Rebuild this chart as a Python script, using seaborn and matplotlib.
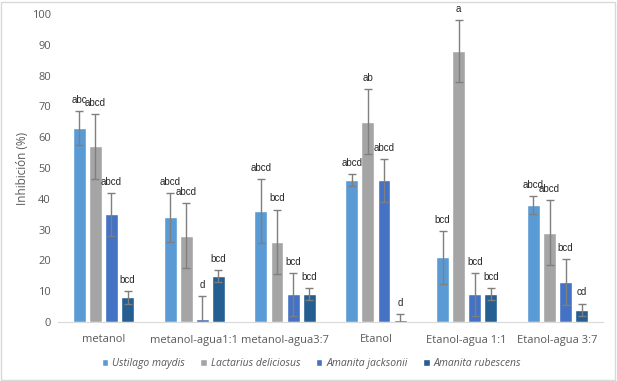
import numpy as np
import pandas as pd
import seaborn as sns
import matplotlib.pyplot as plt
from matplotlib.patches import Rectangle

# data
solvents = ['metanol', 'metanol-agua1:1', 'metanol-agua3:7', 'Etanol',
            'Etanol-agua 1:1', 'Etanol-agua 3:7']
species = ['Ustilago maydis', 'Lactarius deliciosus', 'Amanita jacksonii',
           'Amanita rubescens']

ustilago = [63, 34, 36, 46, 21, 38]
lactarius = [57, 28, 26, 65, 88, 29]
jacksonii = [35, 1, 9, 46, 9, 13]
rubescens = [8, 15, 9, 0.5, 9, 4]

ustilago_err = [5.5, 8, 10.5, 2, 8.5, 3]
lactarius_err = [10.5, 10.5, 10.5, 10.5, 10, 10.5]
jacksonii_err = [7, 7.5, 7, 7, 7, 7.5]
rubescens_err = [2, 2, 2, 2, 2, 2]

ustilago_lbl = ['abc', 'abcd', 'abcd', 'abcd', 'bcd', 'abcd']
lactarius_lbl = ['abcd', 'abcd', 'bcd', 'ab', 'a', 'abcd']
jacksonii_lbl = ['abcd', 'd', 'bcd', 'abcd', 'bcd', 'bcd']
rubescens_lbl = ['bcd', 'bcd', 'bcd', 'd', 'bcd', 'cd']

values = [ustilago, lactarius, jacksonii, rubescens]
errors = [ustilago_err, lactarius_err, jacksonii_err, rubescens_err]
labels = [ustilago_lbl, lactarius_lbl, jacksonii_lbl, rubescens_lbl]
colors = ['#5B9BD5', '#A5A5A5', '#4472C4', '#255E91']

df = pd.DataFrame({
    'solvent': solvents * len(species),
    'species': np.repeat(species, len(solvents)),
    'value': np.concatenate(values),
})

sns.set_style('white')
plt.rcParams['font.family'] = ['Open Sans', 'DejaVu Sans']

fig = plt.figure(figsize=(6.17, 3.81), dpi=100)
ax = fig.add_axes([58 / 617, 59 / 381, 545 / 617, 308 / 381])

sns.barplot(data=df, x='solvent', y='value', hue='species', order=solvents,
            hue_order=species, palette=colors, width=0.71, gap=0.2,
            errorbar=None, saturation=1, ax=ax)

for cont, err, lbl in zip(ax.containers, errors, labels):
    xs = [p.get_x() + p.get_width() / 2 for p in cont]
    hs = [p.get_height() for p in cont]
    ax.errorbar(xs, hs, yerr=err, fmt='none', ecolor='#7f7f7f',
                elinewidth=1, capsize=3, capthick=1)
    for x, h, e, t in zip(xs, hs, err, lbl):
        ax.annotate(t, (x, h + e), xytext=(0, 8), textcoords='offset points',
                    ha='center', va='center', fontsize=7,
                    family='Liberation Sans', color='#262626')

ax.set_ylim(0, 100)
ax.set_yticks(range(0, 101, 10))
ax.set_xlim(-0.5, len(solvents) - 0.5)
ax.set_xlabel('')
ax.set_ylabel('Inhibición (%)', fontsize=8.5, color='#595959', labelpad=2)
ax.tick_params(axis='y', length=0, labelsize=8, colors='#595959', pad=5)
ax.tick_params(axis='x', length=0, labelsize=8, colors='#595959', pad=9)
for s in ['top', 'right', 'left']:
    ax.spines[s].set_visible(False)
ax.spines['bottom'].set_color('#d9d9d9')

handles, texts = ax.get_legend_handles_labels()
leg = ax.legend(handles, texts, loc='center', bbox_to_anchor=(0.465, -0.135),
                ncol=4, frameon=False, fontsize=7.5, handlelength=0.6,
                handleheight=0.6, handletextpad=0.4, columnspacing=1.5)
for t in leg.get_texts():
    t.set_style('italic')
    t.set_color('#595959')

fig.add_artist(Rectangle((0.002, 0.003), 0.995, 0.993, transform=fig.transFigure,
                         fill=False, edgecolor='#d9d9d9', linewidth=1))

fig.savefig('out.png', dpi=100)
